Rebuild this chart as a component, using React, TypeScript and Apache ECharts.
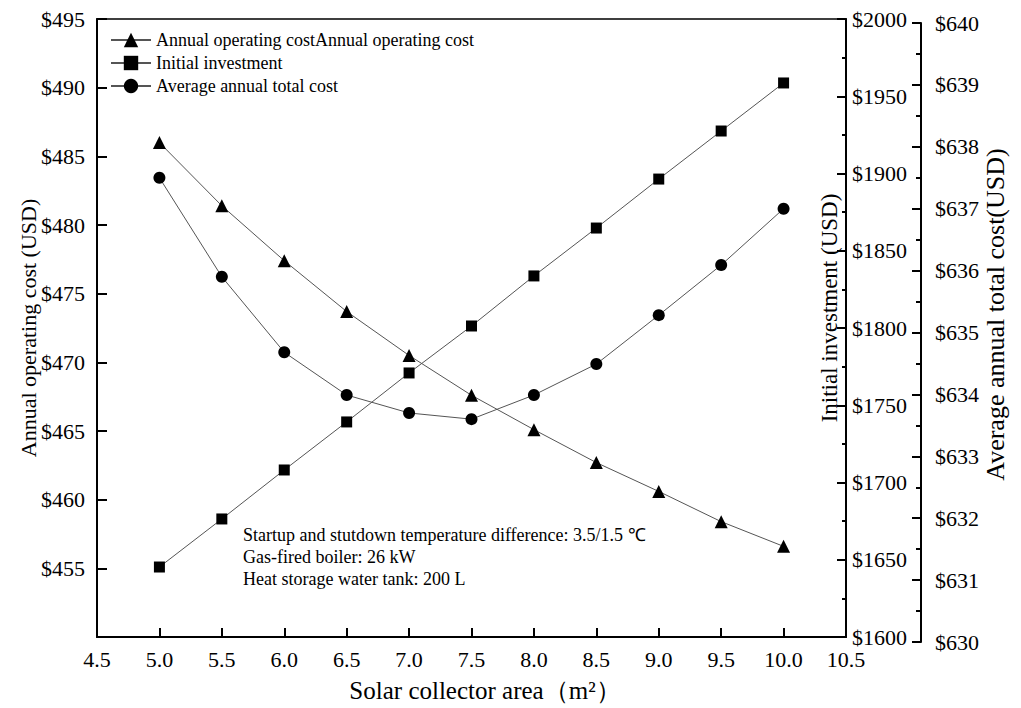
import React, { useEffect, useRef } from "react";
import * as echarts from "echarts";

const areas = [5.0, 5.5, 6.0, 6.5, 7.0, 7.5, 8.0, 8.5, 9.0, 9.5, 10.0];
const annualOperatingCost = [486.0, 481.4, 477.4, 473.7, 470.5, 467.6, 465.1, 462.7, 460.6, 458.4, 456.6];
const initialInvestment = [1645.3, 1676.4, 1708.1, 1739.2, 1770.9, 1801.3, 1833.7, 1864.7, 1896.4, 1927.5, 1958.6];
const averageAnnualTotalCost = [637.5, 635.9, 634.68, 633.99, 633.7, 633.6, 633.99, 634.49, 635.28, 636.09, 637.0];

const seriesNames = [
  "Annual operating costAnnual operating cost",
  "Initial investment",
  "Average annual total cost",
];
const noteLines = [
  "Startup and stutdown temperature difference: 3.5/1.5 \u2103",
  "Gas-fired boiler: 26 kW",
  "Heat storage water tank: 200 L",
];

const FONT = '"Times New Roman", "Liberation Serif", serif';

export default function App() {
  const ref = useRef<HTMLDivElement>(null);
  useEffect(() => {
    if (!ref.current) return;
    const chart = echarts.init(ref.current, undefined, { renderer: "svg" });
    const pair = (ys: number[]) => areas.map((x, i) => [x, ys[i]]);
    const lineStyle = { color: "#555", width: 1 };
    const axisLine = { show: true, lineStyle: { color: "#000", width: 2 } };
    const labelStyle = { color: "#000", fontFamily: FONT, fontSize: 22 };
    const nameStyle = (size: number, padding: number[]) => ({
      color: "#000",
      fontFamily: FONT,
      fontSize: size,
      padding,
    });
    chart.setOption({
      animation: false,
      backgroundColor: "#fff",
      grid: [
        { left: 97, right: 175, top: 19, bottom: 71, show: true, borderColor: "#000", borderWidth: 1.5, backgroundColor: "transparent" },
        { left: 97, right: 175, top: 23, bottom: 66, show: false },
      ],
      legend: {
        orient: "vertical",
        left: 105,
        top: 26,
        itemWidth: 40,
        itemHeight: 18,
        itemGap: 5,
        textStyle: { color: "#000", fontFamily: FONT, fontSize: 18 },
        data: seriesNames,
      },
      xAxis: [
        {
          type: "value",
          gridIndex: 0,
          min: 4.5,
          max: 10.5,
          interval: 0.5,
          name: "Solar collector area\uFF08m\u00B2\uFF09",
          nameLocation: "middle",
          nameGap: 41,
          nameMoveOverlap: false,
          nameTextStyle: nameStyle(25, [0, 0, 0, 27]),
          axisLine,
          axisTick: { show: true, inside: true, length: 9, lineStyle: { color: "#000", width: 2 } },
          axisLabel: { ...labelStyle, margin: 11, formatter: (v: number) => v.toFixed(1) },
          splitLine: { show: false },
        },
        {
          type: "value",
          gridIndex: 1,
          min: 4.5,
          max: 10.5,
          interval: 0.5,
          show: false,
        },
      ],
      yAxis: [
        {
          type: "value",
          gridIndex: 0,
          position: "left",
          min: 450,
          max: 495,
          interval: 5,
          name: "Annual operating cost (USD)",
          nameLocation: "middle",
          nameGap: 58,
          nameMoveOverlap: false,
          nameTextStyle: nameStyle(22, [0, 0, 0, 0]),
          axisLine,
          axisTick: { show: true, inside: true, length: 10, lineStyle: { color: "#000", width: 2 } },
          axisLabel: { ...labelStyle, margin: 12, formatter: (v: number) => (v === 450 ? "" : "$" + v) },
          splitLine: { show: false },
        },
        {
          type: "value",
          gridIndex: 0,
          position: "right",
          min: 1600,
          max: 2000,
          interval: 50,
          name: "Initial investment (USD)",
          nameLocation: "middle",
          nameGap: -28,
          nameMoveOverlap: false,
          nameTextStyle: nameStyle(23, [0, 0, 0, 40]),
          axisLine,
          axisTick: { show: true, inside: true, length: 9, lineStyle: { color: "#000", width: 2 } },
          minorTick: { show: true, splitNumber: 2, length: 4, lineStyle: { color: "#000", width: 2 } },
          axisLabel: { ...labelStyle, margin: 6, formatter: (v: number) => "$" + v },
          splitLine: { show: false },
        },
        {
          type: "value",
          gridIndex: 1,
          position: "right",
          offset: 75,
          min: 630,
          max: 640,
          interval: 1,
          name: "Average annual total cost(USD)",
          nameLocation: "middle",
          nameGap: 61,
          nameMoveOverlap: false,
          nameTextStyle: nameStyle(26, [0, 0, 0, 36]),
          axisLine,
          axisTick: { show: true, inside: true, length: 9, lineStyle: { color: "#000", width: 2 } },
          minorTick: { show: true, splitNumber: 2, length: 5, lineStyle: { color: "#000", width: 2 } },
          axisLabel: { ...labelStyle, margin: 14, padding: [7, 0, 0, 0], formatter: (v: number) => "$" + v },
          splitLine: { show: false },
        },
      ],
      series: [
        {
          name: seriesNames[0],
          type: "line",
          xAxisIndex: 0,
          yAxisIndex: 0,
          data: pair(annualOperatingCost),
          symbol: "triangle",
          symbolSize: 13,
          itemStyle: { color: "#000" },
          lineStyle,
        },
        {
          name: seriesNames[1],
          type: "line",
          xAxisIndex: 0,
          yAxisIndex: 1,
          data: pair(initialInvestment),
          symbol: "rect",
          symbolSize: 11,
          itemStyle: { color: "#000" },
          lineStyle,
        },
        {
          name: seriesNames[2],
          type: "line",
          xAxisIndex: 1,
          yAxisIndex: 2,
          data: pair(averageAnnualTotalCost),
          symbol: "circle",
          symbolSize: 12,
          itemStyle: { color: "#000" },
          lineStyle,
        },
      ],
      graphic: [
        {
          type: "text",
          left: 243,
          top: 524,
          style: {
            text: noteLines.join("\n"),
            fill: "#000",
            font: "18px " + FONT,
            lineHeight: 22,
          },
        },
      ],
    });
    return () => chart.dispose();
  }, []);
  return (
    <div
      ref={ref}
      style={{ position: "absolute", left: 0, top: 0, width: 1021, height: 708 }}
    />
  );
}
